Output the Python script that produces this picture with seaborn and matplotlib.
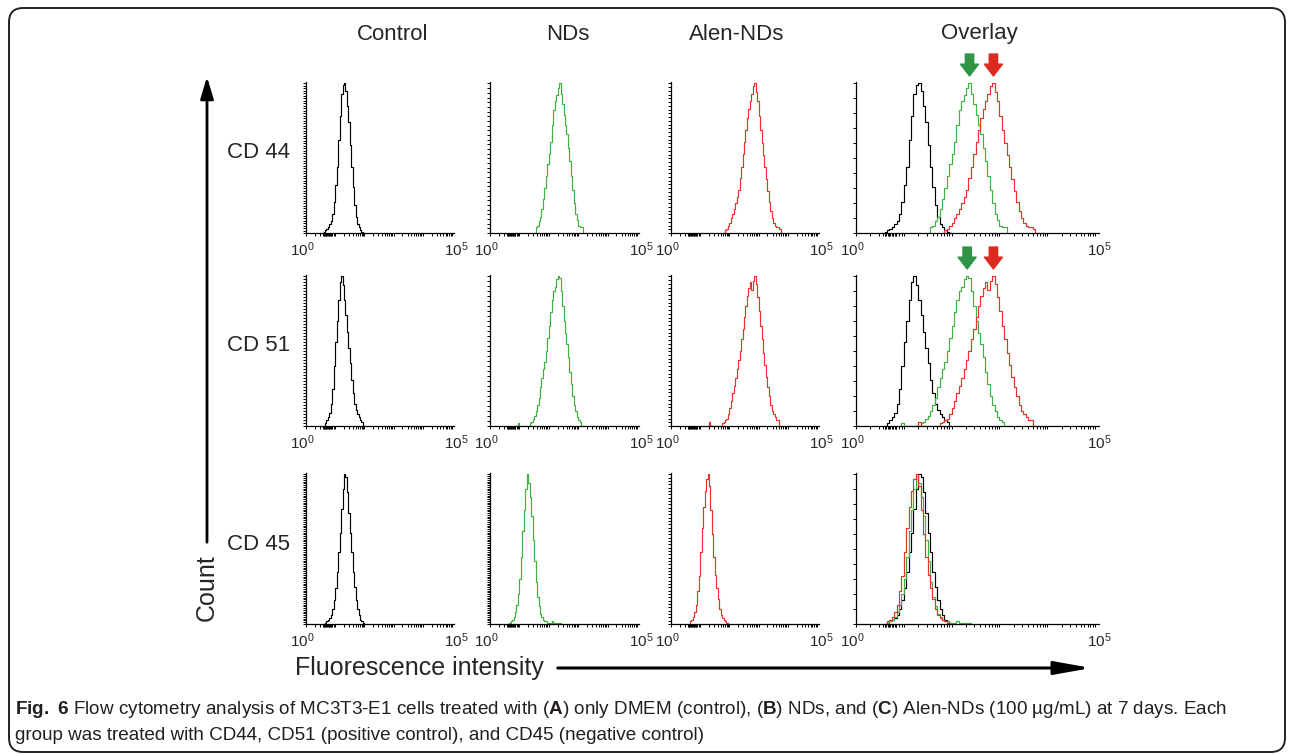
import numpy as np
import pandas as pd
import matplotlib
matplotlib.use("Agg")
import matplotlib.pyplot as plt
from matplotlib import font_manager
from matplotlib.patches import FancyBboxPatch, FancyArrowPatch
import seaborn as sns

# ---- data: counts per 0.05-decade channel (peak scaled to 100) ----
bin_w = 0.05

markers = ["CD 44", "CD 51", "CD 45"]
groups = ["Control", "NDs", "Alen-NDs"]
group_colors = ["black", "#3db43d", "#e8332a"]

# CD44
cd44_start = [0.60, 1.55, 1.85]
cd44_control = [1, 2, 3, 4, 6, 8, 13, 21, 32, 44, 62, 78, 93, 99, 100, 95, 85, 74,
                59, 44, 31, 19, 11, 6, 4, 2, 1]
cd44_nds = [4, 5, 8, 11, 16, 23, 30, 38, 46, 53, 61, 72, 82, 88, 92, 97, 100, 93,
            86, 79, 72, 66, 57, 48, 38, 29, 20, 13, 9, 5, 4, 4]
cd44_alen = [2, 3, 5, 7, 10, 13, 16, 20, 24, 29, 37, 44, 53, 61, 69, 77, 83, 88,
             93, 98, 100, 94, 88, 78, 69, 60, 52, 44, 36, 28, 21, 15, 10, 7, 5, 4, 4, 3]

# CD51
cd51_start = [0.65, 0.95, 1.30]
cd51_control = [2, 4, 6, 9, 15, 25, 40, 56, 70, 84, 96, 100, 94, 84, 74, 63, 52,
                42, 31, 22, 15, 11, 8, 6, 4, 3]
cd51_nds = [2, 0, 0, 0, 0, 0, 0, 0, 2, 3, 5, 7, 10, 14, 19, 26, 32, 38, 43, 50, 59,
            67, 76, 84, 90, 93, 98, 100, 99, 90, 80, 70, 62, 55, 46, 36, 28, 20,
            14, 10, 6, 4, 3]
cd51_alen = [3, 0, 0, 0, 0, 0, 0, 0, 0, 2, 3, 4, 5, 8, 12, 17, 22, 27, 32, 38, 44,
             50, 58, 65, 73, 80, 87, 92, 96, 91, 97, 100, 95, 86, 77, 67, 58, 49,
             41, 33, 26, 20, 14, 10, 8, 6, 4, 4]

# CD45
cd45_start = [0.65, 0.65, 0.65]
cd45_control = [1, 2, 3, 4, 6, 10, 16, 24, 35, 48, 61, 77, 90, 100, 98, 88, 74, 61,
                48, 35, 25, 16, 10, 6, 3, 2, 1]
cd45_nds = [1, 2, 3, 5, 8, 13, 20, 30, 45, 62, 76, 90, 100, 94, 85, 72, 56, 42, 28,
            18, 12, 7, 5, 3, 2, 2, 1, 1, 1, 2, 1, 1, 1, 1, 1]
cd45_alen = [2, 3, 5, 8, 13, 22, 32, 48, 64, 78, 89, 97, 100, 92, 76, 60, 45, 33,
             24, 17, 10, 6, 4, 3, 2, 1]

curves = [
    (cd44_start, [cd44_control, cd44_nds, cd44_alen]),
    (cd51_start, [cd51_control, cd51_nds, cd51_alen]),
    (cd45_start, [cd45_control, cd45_nds, cd45_alen]),
]
# arrows over the overlay marking the shifted peaks (rows CD44, CD51)
arrow_rows = [0, 1]
arrow_colors = ["#2f9446", "#dd2a1f"]

# left-axis tick density of each panel
ytick_counts = [[60, 32, 40, 10], [50, 30, 40, 10], [85, 85, 45, 10]]

# ---- style ----
sns.set_style("white")
plt.rcParams["font.family"] = ["Liberation Sans", "DejaVu Sans"]


def has_font(name):
    try:
        font_manager.findfont(name, fallback_to_default=False)
        return True
    except Exception:
        return False


cap_family = "Liberation Sans Narrow" if has_font("Liberation Sans Narrow") else "Liberation Sans"
cap_size = 16 if cap_family == "Liberation Sans Narrow" else 13.6
plt.rcParams["mathtext.fontset"] = "custom"
plt.rcParams["mathtext.rm"] = cap_family
plt.rcParams["mathtext.bf"] = cap_family + ":bold"

W, H = 1293, 755
fig = plt.figure(figsize=(W / 100, H / 100), dpi=100)


def fx(x):
    return x / W


def fy(y):
    return 1 - y / H


col_left = [306, 490, 671, 856]
col_span = [146, 147, 146, 239]   # pixels for five decades
row_top = [82, 275, 473]
row_h = 151
xmax = 5.08

# bottom ticks: log positions + the dense channel marks near the origin
xticks = [d + np.log10(k) for d in range(5) for k in range(1, 10)] + [5.0]
xticks += list(np.arange(0.57, 0.86, 0.03))

for r in range(3):
    start, counts = curves[r]
    for c in range(4):
        w = col_span[c] * xmax / 5
        ax = fig.add_axes([fx(col_left[c]), fy(row_top[r] + row_h), w / W, row_h / H])
        idx = [c] if c < 3 else [0, 1, 2]
        for g in idx:
            vals = np.array(counts[g], dtype=float)
            s = start[g]
            df = pd.DataFrame({"decade": s + bin_w * (np.arange(len(vals)) + 0.5),
                               "count": vals})
            edges = list(s + bin_w * np.arange(-1, len(vals) + 2))
            sns.histplot(data=df, x="decade", weights="count", bins=edges, element="step",
                         fill=False, color=group_colors[g], linewidth=0.85, ax=ax)
        if c == 3 and r in arrow_rows:
            for g, col in zip([1, 2], arrow_colors):
                vals = np.array(counts[g])
                peak = start[g] + bin_w * (np.argmax(vals) + 0.5)
                ax.annotate("", xy=(peak, 1.04), xytext=(peak, 1.185),
                            xycoords=("data", "axes fraction"),
                            arrowprops=dict(arrowstyle="simple,head_length=0.85,head_width=1.3,tail_width=0.6",
                                            color=col, shrinkA=0, shrinkB=0, mutation_scale=10),
                            annotation_clip=False)
        ax.set_xlim(0, xmax)
        ax.set_ylim(0, 101)
        ax.set(xlabel="", ylabel="")
        sns.despine(ax=ax)
        for sp in ["left", "bottom"]:
            ax.spines[sp].set_linewidth(0.9)
            ax.spines[sp].set_color("black")
        ax.set_xticks(xticks)
        ax.set_yticks(np.linspace(0, 100, ytick_counts[r][c] + 1))
        ax.set_xticklabels([])
        ax.set_yticklabels([])
        ax.tick_params(axis="both", direction="out", length=2.2, width=0.7,
                       colors="black", bottom=True, left=True)
        ax.annotate(r"$\mathregular{10^0}$", xy=(0, 0), xycoords=("data", "axes fraction"),
                    xytext=(-3, -5), textcoords="offset points", ha="center", va="top",
                    fontsize=11, annotation_clip=False)
        ax.annotate(r"$\mathregular{10^5}$", xy=(5, 0), xycoords=("data", "axes fraction"),
                    xytext=(3, -5), textcoords="offset points", ha="center", va="top",
                    fontsize=11, annotation_clip=False)

# column titles and row labels
for name, x in zip(groups + ["Overlay"], [393, 568, 737, 979]):
    fig.text(fx(x), fy(34), name, ha="center", va="center", fontsize=16)
for name, y in zip(markers, [152, 346, 545]):
    fig.text(fx(290), fy(y), name, ha="right", va="center", fontsize=16)

# axis titles with arrows
fig.text(fx(207), fy(588), "Count", rotation=90, ha="center", va="center", fontsize=18)
fig.add_artist(FancyArrowPatch((fx(207), fy(545)), (fx(207), fy(74)),
                               transform=fig.transFigure, arrowstyle="-|>,head_length=0.6,head_width=0.18",
                               mutation_scale=22, lw=2, color="black"))
fig.text(fx(295), fy(668), "Fluorescence intensity", ha="left", va="center", fontsize=18)
fig.add_artist(FancyArrowPatch((fx(555), fy(668)), (fx(1094), fy(668)),
                               transform=fig.transFigure, arrowstyle="-|>,head_length=1.0,head_width=0.18",
                               mutation_scale=22, lw=2.2, color="black"))

# caption
line1 = (r"$\mathbf{Fig.}$ $\mathbf{6}$ Flow cytometry analysis of MC3T3-E1 cells treated with "
         r"($\mathbf{A}$) only DMEM (control), ($\mathbf{B}$) NDs, and ($\mathbf{C}$) "
         "Alen-NDs (100 \u00b5g/mL) at 7 days. Each")
line2 = "group was treated with CD44, CD51 (positive control), and CD45 (negative control)"
fig.text(fx(15), fy(709), line1, ha="left", va="center", fontsize=cap_size,
         family=cap_family, color="#231f20")
fig.text(fx(15), fy(736), line2, ha="left", va="center", fontsize=cap_size,
         family=cap_family, color="#231f20")

# rounded frame
fig.add_artist(FancyBboxPatch((fx(9), fy(752)), fx(1285 - 9), (752 - 8) / H,
                              boxstyle="round,pad=0,rounding_size=0.011",
                              transform=fig.transFigure, fill=False, lw=1.4,
                              edgecolor="#222222", mutation_aspect=W / H))

fig.savefig("out.png", dpi=100)
